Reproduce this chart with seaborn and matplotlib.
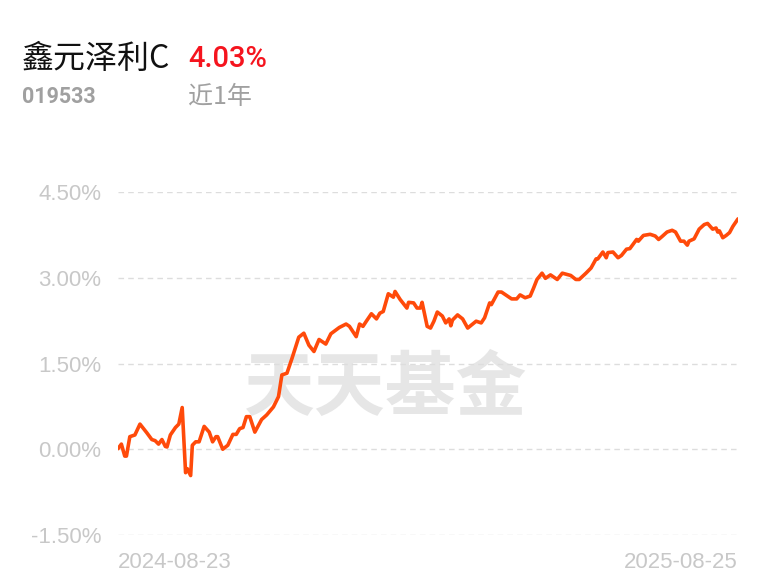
import matplotlib
matplotlib.use("Agg")
import matplotlib.pyplot as plt
import seaborn as sns
import pandas as pd

# fund info
fund_name = "鑫元泽利C"
fund_code = "019533"
period_label = "近1年"
period_return = "4.03%"

start_date = "2024-08-23"
end_date = "2025-08-25"

# days since start date, and cumulative return (%)
day_offsets = [
    0, 2, 4, 5, 7, 10, 13, 17, 20, 22, 24, 26, 28, 29, 31, 34, 36, 38, 40, 41,
    43, 44, 46, 48, 51, 54, 56, 58, 59, 62, 65, 68, 70, 72, 74, 76, 78, 81, 85, 88,
    92, 95, 97, 100, 103, 107, 110, 113, 116, 119, 123, 126, 131, 135, 137, 141, 143, 145, 147, 150,
    153, 155, 157, 160, 163, 164, 167, 171, 172, 175, 177, 179, 180, 183, 185, 187, 189, 192, 194, 196,
    197, 198, 201, 204, 207, 212, 215, 217, 220, 221, 225, 227, 233, 236, 238, 241, 244, 246, 248, 251,
    253, 256, 260, 263, 268, 271, 273, 277, 280, 283, 284, 287, 289, 290, 293, 296, 298, 301, 303, 307,
    308, 311, 315, 318, 320, 322, 325, 328, 330, 333, 335, 337, 338, 341, 344, 347, 349, 352, 354, 355,
    356, 358, 360, 362, 364, 367,
]
returns = [
    0.01, 0.09, -0.12, -0.12, 0.22, 0.25, 0.44, 0.29, 0.17, 0.15, 0.09, 0.17, 0.05, 0.04, 0.25, 0.38, 0.44, 0.73, -0.41, -0.34,
    -0.46, 0.07, 0.13, 0.13, 0.40, 0.30, 0.13, 0.22, 0.22, 0.00, 0.07, 0.26, 0.26, 0.36, 0.38, 0.57, 0.57, 0.30, 0.52, 0.60,
    0.74, 0.92, 1.30, 1.33, 1.59, 1.96, 2.03, 1.82, 1.71, 1.92, 1.84, 2.02, 2.13, 2.19, 2.15, 1.97, 2.19, 2.15, 2.24, 2.37,
    2.28, 2.38, 2.41, 2.72, 2.66, 2.76, 2.62, 2.47, 2.57, 2.56, 2.47, 2.47, 2.57, 2.15, 2.12, 2.24, 2.40, 2.33, 2.21, 2.28,
    2.16, 2.26, 2.35, 2.28, 2.12, 2.24, 2.21, 2.30, 2.56, 2.53, 2.75, 2.75, 2.63, 2.63, 2.70, 2.65, 2.68, 2.82, 2.97, 3.08,
    2.99, 3.05, 2.97, 3.08, 3.04, 2.97, 2.97, 3.08, 3.17, 3.33, 3.33, 3.45, 3.35, 3.44, 3.45, 3.35, 3.39, 3.50, 3.51, 3.67,
    3.64, 3.74, 3.76, 3.73, 3.67, 3.72, 3.80, 3.83, 3.80, 3.64, 3.64, 3.57, 3.64, 3.68, 3.85, 3.93, 3.95, 3.85, 3.87, 3.80,
    3.82, 3.70, 3.74, 3.79, 3.90, 4.03,
]

y_ticks = [-1.5, 0.0, 1.5, 3.0, 4.5]

sns.set_theme(style="white")
plt.rcParams["font.family"] = ["Noto Sans CJK SC", "DejaVu Sans"]

df = pd.DataFrame({
    "date": pd.Timestamp(start_date) + pd.to_timedelta(day_offsets, unit="D"),
    "ret": returns,
})

fig = plt.figure(figsize=(7.68, 5.85), dpi=100)
ax = fig.add_axes([118 / 768, 1 - 535 / 585, 620 / 768, 343 / 585])

# watermark behind the line
ax.text(0.432, 0.425, "天天基金", transform=ax.transAxes, ha="center", va="center",
        fontsize=51, fontweight="bold", color="#e6e6e6", zorder=0,
        family=["Noto Sans CJK SC", "DejaVu Sans"])

sns.lineplot(data=df, x="date", y="ret", ax=ax, color="#ff4a0a", linewidth=2.6, zorder=3)

ax.set_ylim(-1.5, 4.5)
ax.set_xlim(pd.Timestamp(start_date), pd.Timestamp(end_date))
ax.set_yticks(y_ticks)
ax.set_yticklabels([f"{v:.2f}%" for v in y_ticks], family=["Liberation Sans", "DejaVu Sans"])
ax.set_xticks([pd.Timestamp(start_date), pd.Timestamp(end_date)])
ax.set_xticklabels([start_date, end_date], family=["Liberation Sans", "DejaVu Sans"])
for lbl, ha in zip(ax.get_xticklabels(), ["left", "right"]):
    lbl.set_ha(ha)
ax.tick_params(axis="both", length=0, labelsize=16, colors="#c8c8c8")
ax.tick_params(axis="y", pad=12)
ax.tick_params(axis="x", pad=12)

ax.grid(axis="y", color="#dddddd", linestyle=(0, (4, 3)), linewidth=1)
ax.grid(axis="x", visible=False)
for s in ax.spines.values():
    s.set_visible(False)
ax.set_xlabel("")
ax.set_ylabel("")

# header
fig.text(22 / 768, 1 - 59 / 585, fund_name, fontsize=23, color="#111111", va="center", ha="left")
fig.text(188 / 768, 1 - 59 / 585, period_return, fontsize=21, color="#f5141e", va="center", ha="left",
         fontweight="medium", family=["Roboto", "DejaVu Sans"])
fig.text(22 / 768, 1 - 97 / 585, fund_code, fontsize=15.5, color="#a0a0a0", va="center", ha="left",
         fontweight="bold", family=["Roboto", "DejaVu Sans"])
fig.text(188 / 768, 1 - 97 / 585, period_label, fontsize=18, color="#a0a0a0", va="center", ha="left")

fig.savefig("out.png", dpi=100, facecolor="white")
